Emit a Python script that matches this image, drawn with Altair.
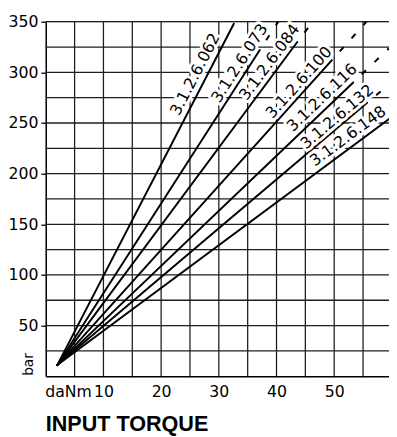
import altair as alt
import pandas as pd

# ---- data ----
names = ["3.1.2.6.062", "3.1.2.6.073", "3.1.2.6.084", "3.1.2.6.100",
         "3.1.2.6.116", "3.1.2.6.132", "3.1.2.6.148"]
x_start = [2.0, 2.0, 2.0, 2.0, 2.0, 2.0, 2.0]
y_start = [11, 11, 11, 11, 11, 11, 11]
x_solid = [32.6, 37.1, 43.6, 49.6, 53.3, 55.7, 59.5]
y_solid = [348, 322, 330, 312, 290, 270, 254]
x_end = [32.6, 40.3, 46.3, 55.6, 59.5, 59.5, 59.5]
y_end = [348, 350, 350, 350, 323.8, 288, 254]
label_x = [25.9, 33.6, 38.8, 43.9, 47.9, 50.5, 52.4]
label_y = [298, 309, 310, 290, 275, 256, 237]
label_angle = [297.3, 302.8, 306.6, 312.0, 316.3, 319.8, 323.6]

grid_x = [5, 10, 15, 20, 25, 30, 35, 40, 45, 50, 55]
grid_y = [25, 50, 75, 100, 125, 150, 175, 200, 225, 250, 275, 300, 325, 350]
x_ticks = [10, 20, 30, 40, 50]
y_ticks = [50, 100, 150, 200, 250, 300, 350]

X_MAX = 59.5
Y_MAX = 350
W = 350
H = 361.5
FONT = "DejaVu Sans"

lines = pd.DataFrame({
    "name": names, "x0": x_start, "y0": y_start, "x1": x_solid, "y1": y_solid,
    "x2": x_end, "y2": y_end, "lx": label_x, "ly": label_y, "ang": label_angle,
})
gx = pd.DataFrame({"g": grid_x})
gy = pd.DataFrame({"g": grid_y})

xs = alt.Scale(domain=[0, X_MAX], nice=False, zero=False)
ys = alt.Scale(domain=[0, Y_MAX], nice=False, zero=False)

grid_color = "#1e1e1e"

vgrid = alt.Chart(gx).mark_rule(color=grid_color, strokeWidth=1.3).encode(
    x=alt.X("g:Q", scale=xs, axis=alt.Axis(
        values=x_ticks, grid=False, ticks=False, tickSize=0, labelPadding=8,
        labelFont=FONT, labelFontSize=16, labelColor="black",
        domainColor="black", domainWidth=1.5,
        title="daNm", titleFont=FONT, titleFontSize=16, titleFontWeight="normal",
        titleColor="black", titleX=-1, titleY=8, titleAlign="left",
        titleBaseline="top", titleAngle=0)),
    y=alt.datum(0, scale=ys),
    y2=alt.datum(Y_MAX),
)

hgrid = alt.Chart(gy).mark_rule(color=grid_color, strokeWidth=1.3).encode(
    y=alt.Y("g:Q", scale=ys, axis=alt.Axis(
        values=y_ticks, grid=False, ticks=True, tickSize=5, tickColor="black",
        tickWidth=1.3, labelPadding=3, labelFont=FONT, labelFontSize=16,
        labelColor="black", domainColor="black", domainWidth=1.5,
        title="bar", titleFont=FONT, titleFontSize=14, titleFontWeight="normal",
        titleColor="black", titleAngle=270, titleX=-17.5, titleY=349,
        titleAlign="center", titleBaseline="middle")),
    x=alt.datum(0, scale=xs),
    x2=alt.datum(X_MAX),
)

solid = alt.Chart(lines).mark_rule(color="black", strokeWidth=2, strokeCap="round").encode(
    x=alt.X("x0:Q", scale=xs), y=alt.Y("y0:Q", scale=ys),
    x2="x1:Q", y2="y1:Q",
)

dashed = alt.Chart(lines).mark_rule(color="black", strokeWidth=2,
                                    strokeDash=[6, 12], strokeDashOffset=6).encode(
    x=alt.X("x1:Q", scale=xs), y=alt.Y("y1:Q", scale=ys),
    x2="x2:Q", y2="y2:Q",
)

halo = alt.Chart(lines).mark_text(font=FONT, fontSize=16, color="white",
                                  stroke="white", strokeWidth=6, strokeJoin="round",
                                  align="center", baseline="middle").encode(
    x=alt.X("lx:Q", scale=xs), y=alt.Y("ly:Q", scale=ys),
    text="name:N", angle=alt.Angle("ang:Q", scale=None),
)

labels = alt.Chart(lines).mark_text(font=FONT, fontSize=16, color="black",
                                    align="center", baseline="middle").encode(
    x=alt.X("lx:Q", scale=xs), y=alt.Y("ly:Q", scale=ys),
    text="name:N", angle=alt.Angle("ang:Q", scale=None),
)

chart = alt.layer(vgrid, hgrid, solid, dashed, halo, labels).properties(
    width=W, height=H,
    autosize=alt.AutoSizeParams(type="none"),
    padding={"left": 38.5, "top": 9.7, "right": 0, "bottom": 64},
    title=alt.TitleParams("INPUT TORQUE", orient="bottom", anchor="start",
                          frame="group", font="Liberation Sans", fontSize=22,
                          fontWeight="bold", color="black", offset=15),
).configure_view(stroke=None).configure(background="white")

chart.save("out.html", embed_options={"renderer": "svg", "actions": False})
